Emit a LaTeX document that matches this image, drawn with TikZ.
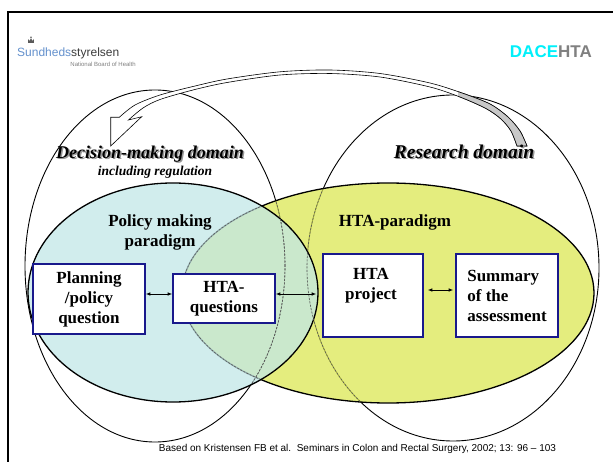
\documentclass[tikz,border=0pt]{standalone}
\usepackage{fontspec}
\setmainfont{Liberation Serif}
\newfontfamily\arialf{Liberation Sans}
\usetikzlibrary{arrows.meta}
\definecolor{boxblue}{RGB}{25,25,140}
\definecolor{pblue}{RGB}{194,231,231}
\definecolor{pyellow}{RGB}{219,231,84}
\definecolor{logoblue}{RGB}{100,145,205}
\definecolor{logogrey}{RGB}{60,60,60}
\definecolor{dacecyan}{RGB}{0,240,250}
\definecolor{htagrey}{RGB}{128,128,128}
\definecolor{arrgrey}{RGB}{200,200,200}
\definecolor{shadowgrey}{RGB}{150,150,150}
\definecolor{crowngrey}{RGB}{90,90,90}
\begin{document}
\begin{tikzpicture}[x=1pt,y=-1pt,
  bigell/.style={draw=black, line width=0.9pt},
  inell/.style={draw=black!65, line width=0.6pt, dash pattern=on 2pt off 1.5pt},
  parell/.style={draw=black, line width=1.3pt},
  box/.style={draw=boxblue, line width=1.6pt, fill=white, inner sep=0pt, font=\bfseries\fontsize{17}{20}\selectfont},
  lbl/.style={font=\bfseries\fontsize{17}{20}\selectfont, align=center, inner sep=0pt},
  dom/.style={inner sep=0pt, anchor=base},
  dar/.style={{Latex[length=4.5pt,width=3.6pt]}-{Latex[length=4.5pt,width=3.6pt]}, line width=0.8pt},
]
\useasboundingbox (0,0) rectangle (613,462);
\fill[white] (0,0) rectangle (613,462);
% frame
\draw[line width=2pt] (8.3,470) -- (8.3,12.3) -- (620,12.3);

% big domain ellipses
\draw[bigell] (155,266) ellipse [x radius=130pt, y radius=176pt];
\draw[bigell] (453,268) ellipse [x radius=146pt, y radius=173pt];

% paradigm ellipses
\fill[pyellow, opacity=0.75] (388,293) ellipse [x radius=206pt, y radius=110pt];
\draw[parell] (388,293) ellipse [x radius=206pt, y radius=110pt];
\fill[pblue, opacity=0.75] (173,292.5) ellipse [x radius=145pt, y radius=109.5pt];
\draw[parell] (173,292.5) ellipse [x radius=145pt, y radius=109.5pt];

% faint lines of the big ellipses seen through the fills
\begin{scope}
\clip (388,293) ellipse [x radius=205pt, y radius=109pt];
\draw[inell] (155,266) ellipse [x radius=130pt, y radius=176pt];
\draw[inell] (453,268) ellipse [x radius=146pt, y radius=173pt];
\end{scope}
\begin{scope}
\clip (173,292.5) ellipse [x radius=144pt, y radius=108.5pt];
\draw[inell] (155,266) ellipse [x radius=130pt, y radius=176pt];
\draw[inell] (388,293) ellipse [x radius=206pt, y radius=110pt];
\end{scope}

% curved block arrow
\filldraw[fill=white, draw=black, line width=0.6pt]
  plot[smooth] coordinates {(119.3,117.3) (135,105) (160,95) (193,86.5) (227,79) (280,71.8) (330,70) (380,73.5) (430,83) (462,93) (490,104) (508,117) (520,131) (527,146)}
  -- plot[smooth] coordinates {(517,146) (511,131) (501,119) (486,108.5) (460,97) (430,87) (380,77) (330,73.5) (280,75) (227,82.5) (193,90) (160,99.5) (143,108) (128.5,120)}
  -- (141.7,116.7) -- (110.7,146) -- (110.7,117.3) -- cycle;
\begin{scope}
\clip (458,0) rectangle (613,200);
\filldraw[fill=arrgrey, draw=black, line width=0.6pt]
  plot[smooth] coordinates {(119.3,117.3) (135,105) (160,95) (193,86.5) (227,79) (280,71.8) (330,70) (380,73.5) (430,83) (462,93) (490,104) (508,117) (520,131) (527,146)}
  -- plot[smooth] coordinates {(517,146) (511,131) (501,119) (486,108.5) (460,97) (430,87) (380,77) (330,73.5) (280,75) (227,82.5) (193,90) (160,99.5) (143,108) (128.5,120)}
  -- (141.7,116.7) -- (110.7,146) -- (110.7,117.3) -- cycle;
\end{scope}

% header
\node[anchor=base west, inner sep=0pt, font=\arialf\fontsize{12}{14}\selectfont] (logo) at (17,56.5) {\textcolor{logoblue}{Sundheds}\textcolor{logogrey}{styrelsen}};
\fill[crowngrey] (28.2,43) -- (28.2,39.2) -- (29.6,41) -- (31,38.2) -- (32.4,41) -- (33.8,39.2) -- (33.8,43) -- cycle;
\fill[crowngrey] (31,37.3) circle [radius=0.8pt];
\node[anchor=base east, inner sep=0pt, font=\arialf\fontsize{6}{7}\selectfont, text=gray] (nbh) at (136,66.5) {National Board of Health};
\node[anchor=base east, inner sep=0pt, font=\arialf\bfseries\fontsize{17}{20}\selectfont] (dace) at (592,58) {\textcolor{dacecyan}{DACE}\textcolor{htagrey}{HTA}};

% domain titles
\node[dom, text=shadowgrey, font=\bfseries\itshape\fontsize{18}{22}\selectfont] (decsh) at (151.5,160) {Decision-making domain};
\node[dom, font=\bfseries\itshape\fontsize{18}{22}\selectfont] (dec) at (150,158.5) {Decision-making domain};
\node[dom, font=\bfseries\itshape\fontsize{13.5}{16}\selectfont] (incl) at (155,176) {including regulation};
\node[dom, text=shadowgrey, font=\bfseries\itshape\fontsize{19.5}{22}\selectfont] (ressh) at (465.5,160) {Research domain};
\node[dom, font=\bfseries\itshape\fontsize{19.5}{22}\selectfont] (res) at (464,158.5) {Research domain};

% paradigm titles
\node[lbl] (pmp) at (160,232) {Policy making\\paradigm};
\node[lbl, anchor=base] (htap) at (395,226.5) {HTA-paradigm};

% boxes
\node[box, minimum width=112pt, minimum height=70pt, align=center] (plan) at (89,299) {Planning\\/policy\\question};
\node[box, minimum width=102pt, minimum height=49pt, align=center] (htaq) at (224,298.5) {HTA-\\questions};
\node[box, minimum width=100pt, minimum height=83pt] (proj) at (373,295.5) {};
\node[lbl] (projlbl) at (371,286) {HTA\\project};
\node[box, minimum width=102pt, minimum height=83pt, align=left] (summ) at (507,295.5) {Summary\\of the\\assessment};

% connectors
\draw[dar] ([yshift=5pt]plan.east) -- ([yshift=5pt]plan.east -| htaq.west);
\draw[dar, shorten >=6pt] ([yshift=4.5pt]htaq.east) -- ([yshift=4.5pt]htaq.east -| proj.west);
\draw[dar, shorten <=4pt, shorten >=2pt] ([yshift=5.5pt]proj.east) -- ([yshift=5.5pt]proj.east -| summ.west);

% footer
\node[anchor=base, inner sep=0pt, font=\arialf\fontsize{10}{12}\selectfont] (foot) at (357.5,451) {Based on Kristensen FB et al.\ \ Seminars in Colon and Rectal Surgery, 2002; 13: 96 – 103};
\end{tikzpicture}
\end{document}
